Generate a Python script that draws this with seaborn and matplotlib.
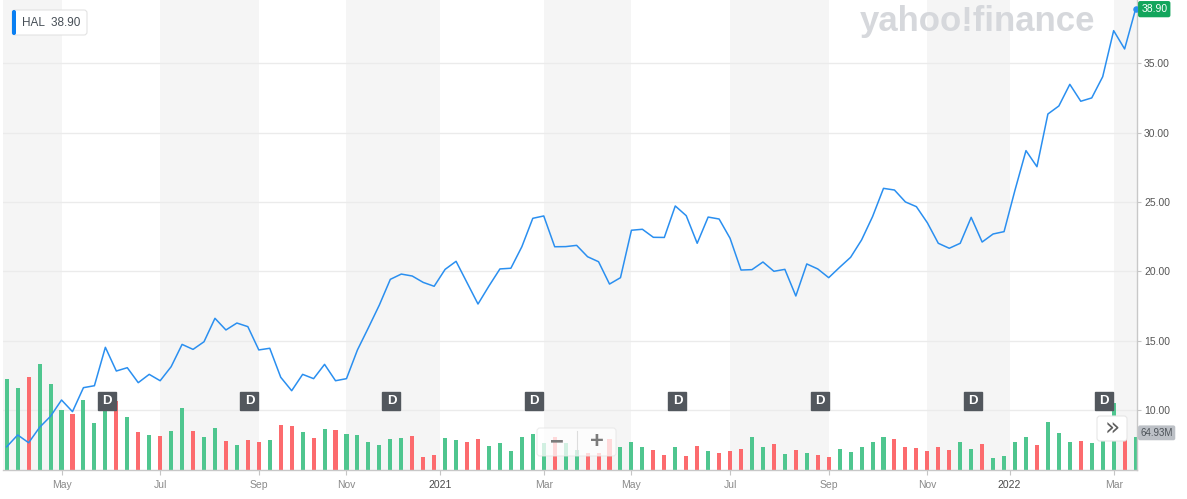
import pandas as pd
import seaborn as sns
import matplotlib.pyplot as plt
from matplotlib.patches import FancyBboxPatch
from matplotlib.transforms import blended_transform_factory

ticker = "HAL"

# weekly closes, one per week starting end of March 2020
close = [7.35, 8.20, 7.64, 8.75, 9.55, 10.72, 9.88, 11.61, 11.75, 14.52,
         12.81, 13.05, 11.97, 12.57, 12.11, 13.12, 14.73, 14.37, 14.92, 16.61,
         15.77, 16.27, 16.01, 14.33, 14.45, 12.36, 11.39, 12.57, 12.26, 13.29,
         12.11, 12.26, 14.33, 15.93, 17.57, 19.42, 19.80, 19.66, 19.20, 18.92,
         20.14, 20.72, 19.18, 17.64, 18.94, 20.17, 20.22, 21.77, 23.82, 23.99,
         21.77, 21.78, 21.87, 21.05, 20.69, 19.08, 19.54, 22.96, 23.03, 22.45,
         22.44, 24.71, 24.01, 22.02, 23.91, 23.77, 22.38, 20.09, 20.12, 20.67,
         20.00, 20.14, 18.22, 20.53, 20.17, 19.54, 20.29, 21.01, 22.26, 23.94,
         25.98, 25.86, 25.00, 24.66, 23.50, 22.02, 21.66, 22.02, 23.89, 22.11,
         22.69, 22.86, 25.86, 28.70, 27.54, 31.34, 31.92, 33.48, 32.26, 32.50,
         34.03, 37.35, 36.03, 38.90]

# weekly volume, millions of shares
volume_m = [179, 162, 183, 209, 169, 118, 110, 138, 93, 130,
            136, 104, 75, 69, 67, 77, 122, 77, 65, 83,
            57, 49, 59, 55, 59, 89, 87, 75, 63, 81,
            79, 71, 69, 55, 49, 61, 63, 67, 26, 30,
            63, 59, 55, 61, 47, 53, 37, 65, 71, 53,
            65, 53, 39, 33, 33, 61, 45, 55, 45, 39,
            30, 45, 28, 47, 37, 33, 37, 41, 65, 45,
            51, 32, 39, 33, 30, 26, 41, 35, 45, 55,
            65, 61, 45, 43, 37, 45, 39, 55, 41, 51,
            24, 28, 55, 65, 49, 95, 73, 55, 57, 53,
            59, 132, 63, 64.93]

# U = up week (green), D = down week (red)
direction = list("UUDUUUDUUU" "DUDUDUUDUU" "DUDDUDDUDU" "DUUUUUUDDD"
                 "UUDDUUUUUU" "DUUDDDUUUD" "DUDDUDDDUU" "DUDUDDUUUU"
                 "UDDDDDDUUD" "UUUUDUUUDU" "UUDU")

tick_weeks = [5, 14, 23, 31, 39.5, 49, 57, 66, 75, 84, 91.5, 101]
tick_labels = ["May", "Jul", "Sep", "Nov", "2021", "Mar",
               "May", "Jul", "Sep", "Nov", "2022", "Mar"]
dividend_weeks = [9.15, 22.15, 35.1, 48.1, 61.2, 74.2, 88.2, 100.1]
price_ticks = [10, 15, 20, 25, 30, 35]

weeks = list(range(len(close)))
df = pd.DataFrame({"week": weeks, "close": close,
                   "volume": volume_m, "dir": direction})

plt.rcParams["font.family"] = ["Liberation Sans", "DejaVu Sans"]

W, H = 1187, 499
fig = plt.figure(figsize=(W / 100, H / 100), dpi=100)
axb = fig.add_axes([3 / W, 29 / H, 1134 / W, 470 / H])
axv = axb.twinx()
axl = axb.twinx()

x0, x1 = -0.34, 103.13
price_lo, price_hi = 5.674, 39.56
vol_hi = 924.8

# background: alternating month bands + price grid
bounds = [x0] + tick_weeks + [x1]
for a, b in zip(bounds[0::2], bounds[1::2]):
    axb.axvspan(a, b, color="#f5f5f5", lw=0)
axb.set_ylim(price_lo, price_hi)
axb.set_yticks(price_ticks)
axb.yaxis.grid(True, color="#ebebeb", lw=1)
axb.tick_params(left=False, labelleft=False, bottom=False, labelbottom=False)
for s in axb.spines.values():
    s.set_visible(False)

# volume bars
sns.barplot(data=df, x="week", y="volume", hue="dir",
            palette={"U": "#4fc68f", "D": "#fc6b6e"},
            native_scale=True, width=0.37, saturation=1, linewidth=0,
            dodge=False, errorbar=None, legend=False, ax=axv)
axv.set_ylim(0, vol_hi)
axv.set_axis_off()

# price line
sns.lineplot(data=df, x="week", y="close", ax=axl, color="#2a8ff0", lw=1.1)
sns.scatterplot(x=[weeks[-1]], y=[close[-1]], ax=axl, color="#2a8ff0",
                s=22, linewidth=0, zorder=5)
axl.set_ylim(price_lo, price_hi)
axl.set_yticks(price_ticks, [f"{v:.2f}" for v in price_ticks])
axl.tick_params(axis="y", right=True, length=3, width=0.8, color="#c5c5c5",
                labelsize=7.5, labelcolor="#555555", pad=2)
axl.xaxis.set_visible(True)
axl.set_xticks(tick_weeks, tick_labels)
axl.tick_params(axis="x", bottom=True, length=3.5, width=0.8, color="#c5c5c5",
                labelsize=7.5, labelcolor="#8a8a8a", pad=4)
for lbl in axl.get_xticklabels():
    if lbl.get_text().isdigit():
        lbl.set_color("#4a4a4a")
for side in ["left", "top"]:
    axl.spines[side].set_visible(False)
for side in ["right", "bottom"]:
    axl.spines[side].set_color("#c8c8c8")
    axl.spines[side].set_linewidth(1)
for a in (axv, axl):
    a.set_xlabel("")
    a.set_ylabel("")
axb.set_xlim(x0, x1)

# last price / volume tags
axl.annotate(f"{close[-1]:.2f}", xy=(1, close[-1]),
             xycoords=("axes fraction", "data"), xytext=(3, 0),
             textcoords="offset points", ha="left", va="center",
             fontsize=7.5, color="white", annotation_clip=False,
             bbox=dict(boxstyle="round,pad=0.3,rounding_size=0.2",
                       fc="#12a55c", ec="none"))
axv.annotate(f"{volume_m[-1]:.2f}M", xy=(1, volume_m[-1]),
             xycoords=("axes fraction", "data"), xytext=(2.5, 3),
             textcoords="offset points", ha="left", va="center",
             fontsize=7, color="#4b5157", annotation_clip=False,
             bbox=dict(boxstyle="round,pad=0.25,rounding_size=0.2",
                       fc="#bcc0c6", ec="none"))

# dividend badges
trans = blended_transform_factory(axv.transData, axv.transAxes)
for dw in dividend_weeks:
    axv.plot([dw], [0.147], marker="s", ms=12.6, color="#52575d",
             mec="#52575d", mew=1, transform=trans, zorder=6, clip_on=False)
    axv.text(dw, 0.147, "D", transform=trans, ha="center", va="center",
             color="white", fontsize=9.5, fontweight="bold", zorder=7)

# overlay widgets, placed in pixels (inches at 100 dpi)
px = fig.dpi_scale_trans


def box(x, y, w, h, **kw):
    fig.patches.append(FancyBboxPatch((x / 100, (H - y - h) / 100), w / 100, h / 100,
                                      transform=px, **kw))


# legend chip
box(12, 10, 75, 25, boxstyle="round,pad=0,rounding_size=0.03",
    fc="white", ec="#e3e3e3", lw=0.8)
box(12, 10, 4, 25, boxstyle="round,pad=0,rounding_size=0.02",
    fc="#0a7ff2", ec="none")
fig.text(22 / W, 1 - 23 / H, f"{ticker}  {close[-1]:.2f}", va="center",
         fontsize=8.5, color="#464e56")

# zoom buttons
box(537, 428, 79, 28, boxstyle="round,pad=0,rounding_size=0.03",
    fc="white", ec="#e6e6e6", lw=0.8, alpha=0.75)
fig.lines.append(plt.Line2D([577 / W, 577 / W], [1 - 431 / H, 1 - 453 / H],
                            transform=fig.transFigure, color="#dddddd", lw=0.8))
fig.text(557 / W, 1 - 442 / H, "\u2212", ha="center", va="center",
         fontsize=17, fontweight="bold", color="#7b7b7b")
fig.text(597 / W, 1 - 442 / H, "+", ha="center", va="center",
         fontsize=17, fontweight="bold", color="#7b7b7b")

# scroll-right button
box(1097, 416, 30, 25, boxstyle="round,pad=0,rounding_size=0.03",
    fc="white", ec="#e6e6e6", lw=0.8)
fig.text(1112 / W, 1 - 429 / H, "\u00bb", ha="center", va="center",
         fontsize=18, color="#5f5f5f", family="DejaVu Sans")

# watermark
fig.text(1095 / W, 1 - 22 / H, "yahoo!finance", ha="right", va="center",
         fontsize=25, fontweight="bold", color="#d6d8dc")

fig.savefig("out.png", dpi=100)
